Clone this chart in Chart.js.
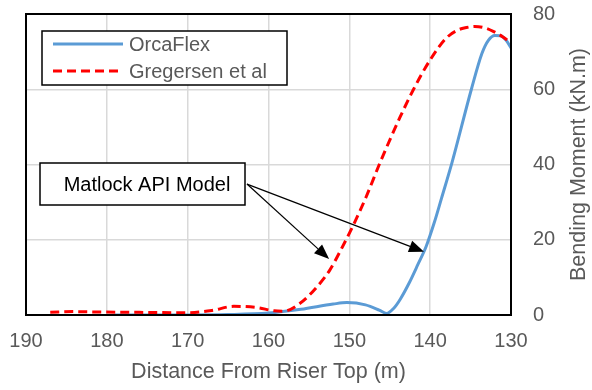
<!DOCTYPE html>
<html>
<head>
<meta charset="utf-8">
<script src="https://cdn.jsdelivr.net/npm/chart.js@4/dist/chart.umd.min.js"></script>
<style>
  html, body { margin: 0; padding: 0; background: #fff; }
  #wrap { width: 592px; height: 390px; }
</style>
</head>
<body>
<div id="wrap"><canvas id="chart"></canvas></div>
<script>
// ---- data ----
const orcaX = [179, 170, 165, 160, 156, 152, 150.3, 148, 146.3, 145.4, 144.5, 143.7, 142.6, 141.5, 140.5, 139.5, 138.6, 137.3, 134.9, 133.6, 132.8, 132.0, 131.3, 130.6, 130];
const orcaY = [0, 0, 0.1, 0.5, 1.5, 2.9, 3.3, 2.7, 1.3, 0.4, 1.8, 4.2, 8.5, 13.5, 18.2, 24.5, 31, 40.5, 60, 69.5, 73, 74.3, 74.2, 73, 71];

const gregX = [187, 184, 181, 176, 170, 167, 164.3, 161.5, 159.3, 158.2, 156.1, 154, 152.4, 151, 149.5, 147.9, 146.2, 143.7, 142.1, 140, 138, 136.5, 135.5, 134.5, 133.2, 132.2, 131, 130];
const gregY = [0.7, 0.9, 0.8, 0.7, 0.6, 1.2, 2.3, 2.0, 1.1, 1.0, 3.1, 7.5, 12.0, 17.5, 23.9, 31.5, 40.5, 52.7, 59.8, 67.8, 73.6, 75.8, 76.4, 76.7, 76.3, 75.4, 73.9, 72.3];

const seriesNames = ['OrcaFlex', 'Gregersen et al'];
const xTicks = [190, 180, 170, 160, 150, 140, 130];
const yTicks = [0, 20, 40, 60, 80];

// annotation: text box and the two arrows (data units)
const noteText = 'Matlock API Model';
const noteFrom = { x: 162.66, y: 34.8 };
const noteTips = [{ x: 152.5, y: 14.9 }, { x: 140.76, y: 16.8 }];

const FONT = 'Liberation Sans, Arial, sans-serif';
const GREY = '#595959';
const BLUE = '#5b9bd5';
const RED = '#ff0000';

Chart.defaults.font.family = FONT;
Chart.defaults.font.size = 20;
Chart.defaults.color = GREY;

const toPts = (xs, ys) => xs.map((x, i) => ({ x: x, y: ys[i] }));

function arrow(ctx, x0, y0, x1, y1) {
  const a = Math.atan2(y1 - y0, x1 - x0);
  const len = 15, half = 6;
  const bx = x1 - len * Math.cos(a), by = y1 - len * Math.sin(a);
  ctx.beginPath();
  ctx.moveTo(x0, y0);
  ctx.lineTo(bx, by);
  ctx.stroke();
  ctx.beginPath();
  ctx.moveTo(x1, y1);
  ctx.lineTo(bx + half * Math.sin(a), by - half * Math.cos(a));
  ctx.lineTo(bx - half * Math.sin(a), by + half * Math.cos(a));
  ctx.closePath();
  ctx.fill();
}

const extras = {
  id: 'extras',
  afterDraw(chart) {
    const { ctx, chartArea: ca, scales: { x, y } } = chart;
    ctx.save();

    // plot frame
    ctx.strokeStyle = '#000';
    ctx.lineWidth = 2;
    ctx.strokeRect(ca.left, ca.top, ca.right - ca.left, ca.bottom - ca.top);

    // legend box
    const lg = { l: 42, t: 31, w: 245, h: 54 };
    ctx.fillStyle = '#fff';
    ctx.fillRect(lg.l, lg.t, lg.w, lg.h);
    ctx.lineWidth = 1.5;
    ctx.strokeRect(lg.l, lg.t, lg.w, lg.h);
    chart.data.datasets.forEach((ds, i) => {
      const yy = 44 + i * 27;
      ctx.strokeStyle = ds.borderColor;
      ctx.lineWidth = 3;
      ctx.setLineDash(ds.borderDash || []);
      ctx.beginPath();
      ctx.moveTo(53, yy);
      ctx.lineTo(123, yy);
      ctx.stroke();
      ctx.setLineDash([]);
      ctx.fillStyle = GREY;
      ctx.font = '20px ' + FONT;
      ctx.textBaseline = 'middle';
      ctx.textAlign = 'left';
      ctx.fillText(ds.label, 129, yy + 1);
    });

    // arrows
    ctx.strokeStyle = '#000';
    ctx.fillStyle = '#000';
    ctx.lineWidth = 1.2;
    const sx = x.getPixelForValue(noteFrom.x), sy = y.getPixelForValue(noteFrom.y);
    noteTips.forEach(p => arrow(ctx, sx, sy, x.getPixelForValue(p.x), y.getPixelForValue(p.y)));

    // note box
    ctx.fillStyle = '#fff';
    ctx.fillRect(40, 163, 205, 42);
    ctx.lineWidth = 1.5;
    ctx.strokeRect(40, 163, 205, 42);
    ctx.fillStyle = '#000';
    ctx.font = '20px ' + FONT;
    ctx.textAlign = 'center';
    ctx.textBaseline = 'middle';
    ctx.fillText(noteText, 147, 185);

    // right axis title, reading bottom to top
    ctx.translate(579, (ca.top + ca.bottom) / 2);
    ctx.rotate(-Math.PI / 2);
    ctx.fillStyle = GREY;
    ctx.font = '21.5px ' + FONT;
    ctx.fillText('Bending Moment (kN.m)', 0, 0);
    ctx.restore();
  }
};

new Chart(document.getElementById('chart'), {
  type: 'scatter',
  data: {
    datasets: [
      {
        label: seriesNames[0],
        data: toPts(orcaX, orcaY),
        showLine: true,
        borderColor: BLUE,
        borderWidth: 3,
        pointRadius: 0,
        cubicInterpolationMode: 'monotone',
        clip: 0,
        order: 2
      },
      {
        label: seriesNames[1],
        data: toPts(gregX, gregY),
        showLine: true,
        borderColor: RED,
        borderWidth: 3,
        borderDash: [9, 5],
        pointRadius: 0,
        cubicInterpolationMode: 'monotone',
        clip: 0,
        order: 1
      }
    ]
  },
  options: {
    responsive: true,
    maintainAspectRatio: false,
    animation: false,
    events: [],
    layout: { padding: { left: 26, top: 14, right: 0, bottom: 0 } },
    plugins: { legend: { display: false }, tooltip: { enabled: false } },
    scales: {
      x: {
        type: 'linear',
        reverse: true,
        min: 130, max: 190,
        afterBuildTicks: s => { s.ticks = xTicks.map(v => ({ value: v })); },
        afterFit: s => { s.height = 75; s.paddingLeft = 0; s.paddingRight = 0; },
        ticks: { padding: 14, color: GREY },
        grid: { color: '#d9d9d9', lineWidth: 1.5, drawTicks: false },
        border: { display: false },
        title: { display: true, text: 'Distance From Riser Top (m)', color: GREY, font: { size: 21.5 }, padding: { top: 0, bottom: 5 } }
      },
      y: {
        position: 'right',
        min: 0, max: 80,
        afterBuildTicks: s => { s.ticks = yTicks.map(v => ({ value: v })); },
        afterFit: s => { s.width = 81; s.paddingTop = 0; s.paddingBottom = 0; },
        ticks: { padding: 22, color: GREY },
        grid: { color: '#d9d9d9', lineWidth: 1.5, drawTicks: false },
        border: { display: false }
      }
    }
  },
  plugins: [extras]
});
</script>
</body>
</html>
